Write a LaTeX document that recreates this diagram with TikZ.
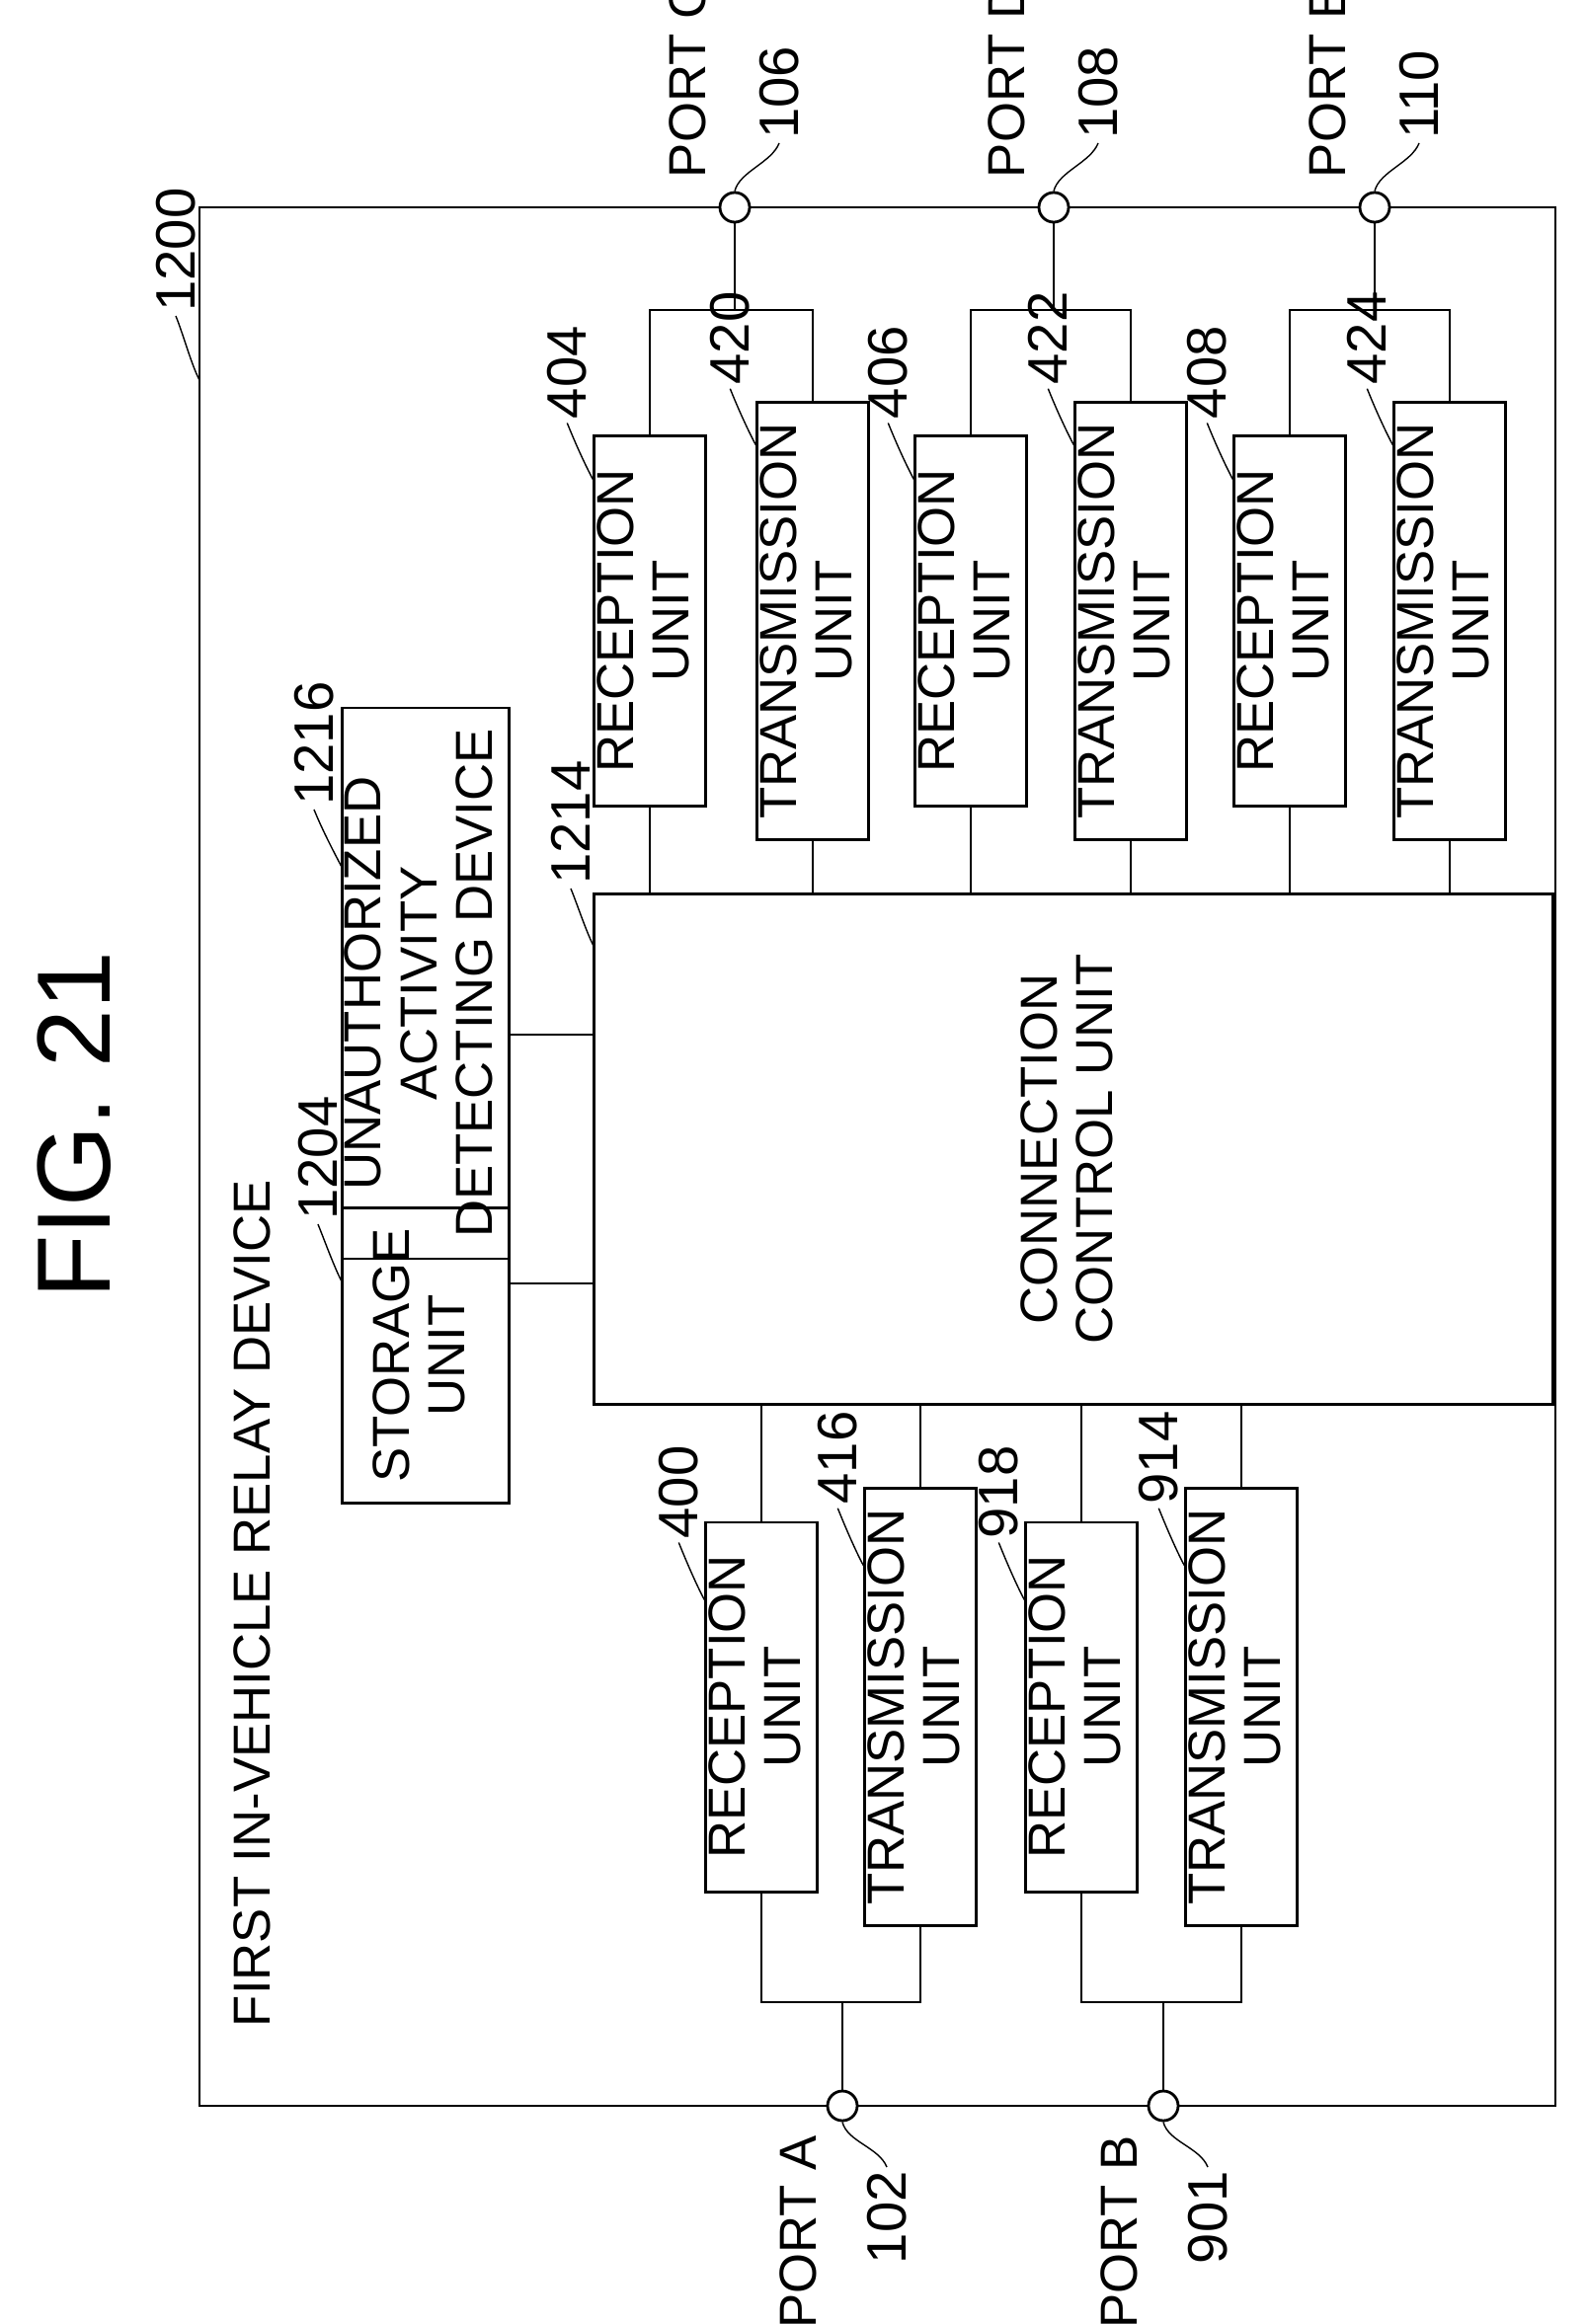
\documentclass[tikz,border=0pt]{standalone}
\usepackage{fontspec}
\setmainfont{Liberation Sans}
\usetikzlibrary{positioning,calc}
\tikzset{
    unit/.style={
           rectangle,
           draw=black, thick,
           inner sep=0pt,
           align=center,
           font=\fontsize{15}{16}\selectfont,
           },
    port/.style={circle, draw=black, thick, fill=white, minimum size=0.3cm, inner sep=0pt},
    refnum/.style={rotate=90, anchor=west, inner sep=1pt, font=\fontsize{16}{18}\selectfont},
    lbl/.style={rotate=90, inner sep=1pt, font=\fontsize{15}{16}\selectfont},
}
% leader from a box corner to its reference number
\newcommand{\leader}[3]{%
  \draw[thin] #1 .. controls +(-8,-15) and +(8,20) .. #2 node[refnum] {#3};}

\begin{document}
\begin{tikzpicture}[x=0.01cm,y=-0.01cm,thick]
 \useasboundingbox (0,0) rectangle (1607,2354);

 \node[lbl, font=\fontsize{30}{32}\selectfont] (FIG) at (75,1140) {FIG. 21};

 % outer device box
 \draw (202,210) rectangle (1575,2133);
 \node[lbl, anchor=west] (TITLE) at (255,2058) {FIRST IN-VEHICLE RELAY DEVICE};
 \leader{(202,385)}{(178,320)}{1200}

 % connection control unit
 \node[unit, minimum width=9.7cm, minimum height=5.16cm] (CCU) at (1087,1164)
  {\rotatebox{90}{\begin{tabular}{c}CONNECTION\\CONTROL UNIT\end{tabular}}};
 \leader{(602,960)}{(578,900)}{1214}

 % storage and detecting device
 \node[unit, minimum width=1.69cm, minimum height=2.47cm] (STORE) at (431,1373)
  {\rotatebox{90}{\begin{tabular}{c}STORAGE\\UNIT\end{tabular}}};
 \node[unit, minimum width=1.69cm, minimum height=4.72cm] (UAD) at (431,996)
  {\rotatebox{90}{\begin{tabular}{c}UNAUTHORIZED\\ACTIVITY\\DETECTING DEVICE\end{tabular}}};
 \leader{(347,1300)}{(322,1240)}{1204}
 \leader{(347,880)}{(318,820)}{1216}
 \draw (STORE.east |- 0,1300) -- (CCU.west |- 0,1300);
 \draw (UAD.east |- 0,1048) -- (CCU.west |- 0,1048);

 % upper units (x centre, name, text, number)
 \foreach \cx/\nm/\txt/\num in {658/RX404/RECEPTION/404, 823/TX420/TRANSMISSION/420,
   983/RX406/RECEPTION/406, 1145/TX422/TRANSMISSION/422,
   1306/RX408/RECEPTION/408, 1468/TX424/TRANSMISSION/424}{
   \node[unit, minimum width=1.05cm, minimum height=3.74cm] (\nm) at (\cx,629)
    {\rotatebox{90}{\begin{tabular}{c}\txt\\UNIT\end{tabular}}};
   \draw (\nm.south) -- (\nm.south |- CCU.north);
   \leader{($(\nm.north west)+(0,45)$)}{($(\nm.north west)+(-26,-12)$)}{\num}
 }

 % lower units
 \foreach \cx/\nm/\txt/\num in {771/RX400/RECEPTION/400, 932/TX416/TRANSMISSION/416,
   1095/RX918/RECEPTION/918, 1257/TX914/TRANSMISSION/914}{
   \node[unit, minimum width=1.05cm, minimum height=3.74cm] (\nm) at (\cx,1729)
    {\rotatebox{90}{\begin{tabular}{c}\txt\\UNIT\end{tabular}}};
   \draw (\nm.north) -- (\nm.north |- CCU.south);
   \leader{($(\nm.north west)+(0,80)$)}{($(\nm.north west)+(-26,22)$)}{\num}
 }

 % ports
 \foreach \px/\nm/\txt/\num in {744/PC/PORT C/106, 1067/PD/PORT D/108, 1392/PE/PORT E/110}{
   \node[port] (\nm) at (\px,210) {};
   \node[lbl, anchor=west] at (\px-48,185) {\txt};
   \draw[thin] (\nm.north) .. controls +(5,-20) and +(-8,20) .. (\px+45,145)
     node[refnum] {\num};
 }
 \foreach \px/\nm/\txt/\num in {853/PA/PORT A/102, 1178/PB/PORT B/901}{
   \node[port] (\nm) at (\px,2133) {};
   \node[lbl, anchor=east] at (\px-45,2158) {\txt};
   \draw[thin] (\nm.south) .. controls +(5,20) and +(-8,-20) .. (\px+45,2195)
     node[refnum, anchor=east] {\num};
 }

 % port wiring
 \draw (PC.south) -- (744,314); \draw (RX404.north) -- (658,314) -- (823,314) -- (TX420.north);
 \draw (PD.south) -- (1067,314); \draw (RX406.north) -- (983,314) -- (1145,314) -- (TX422.north);
 \draw (PE.south) -- (1392,314); \draw (RX408.north) -- (1306,314) -- (1468,314) -- (TX424.north);
 \draw (PA.north) -- (853,2028); \draw (RX400.south) -- (771,2028) -- (932,2028) -- (TX416.south);
 \draw (PB.north) -- (1178,2028); \draw (RX918.south) -- (1095,2028) -- (1257,2028) -- (TX914.south);
\end{tikzpicture}
\end{document}
